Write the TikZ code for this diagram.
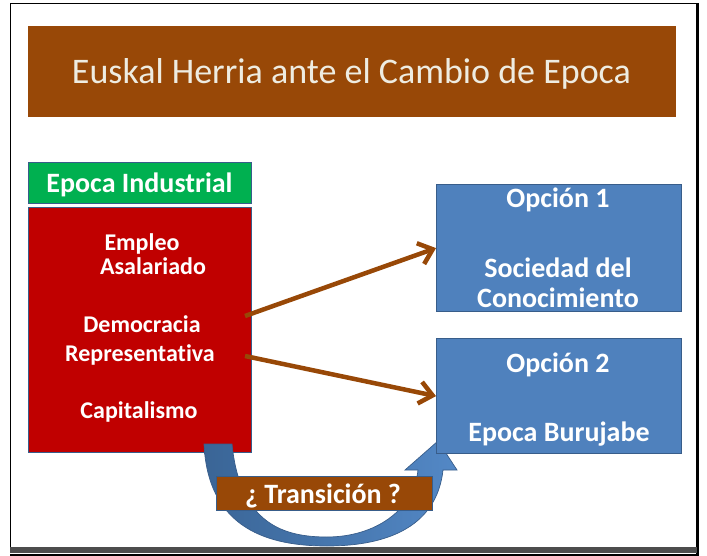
\documentclass[tikz,border=0pt]{standalone}
\usepackage{fontspec}
\setmainfont{Carlito}[Ligatures={NoCommon,NoRare}]
\usetikzlibrary{arrows.meta}
\definecolor{brownbox}{HTML}{984807}
\definecolor{greenbox}{HTML}{00B050}
\definecolor{redbox}{HTML}{C00000}
\definecolor{bluebox}{HTML}{4F81BD}
\definecolor{blueline}{HTML}{385D8A}
\definecolor{cream}{HTML}{EEECE1}
\definecolor{barcol}{HTML}{4D4D4D}
\definecolor{bluedark}{HTML}{3A6596}
\definecolor{bluelight}{HTML}{5388C6}
\tikzset{
  boxbase/.style={draw=blueline, line width=0.8pt, inner sep=0pt, anchor=north west},
  txt/.style={text=white, font=\bfseries\fontsize{24}{28}\selectfont, anchor=base, inner sep=0pt},
  bigtxt/.style={text=white, font=\bfseries\fontsize{28}{32}\selectfont, anchor=base, inner sep=0pt},
  brownarrow/.style={draw=brownbox, line width=4.5pt, -{Straight Barb[length=13pt,width=22pt]}},
}
\begin{document}
\begin{tikzpicture}[x=1pt,y=-1pt]
\useasboundingbox (0,0) rectangle (707,556);
% frame
\fill[white] (0,0) rectangle (707,556);
\draw[line width=1.3pt] (10.7,553) -- (10.7,3.5) -- (697,3.5);
\draw[line width=2.7pt] (697.5,3) -- (697.5,556);
\fill[barcol] (10,547) rectangle (696.5,553);
\draw[line width=1.6pt] (10,555) -- (699,555);
% title
\node[boxbase, fill=brownbox, draw=none, minimum width=648pt, minimum height=91pt] (title) at (28,26) {};
\node[text=cream, font=\fontsize{36}{40}\selectfont, anchor=base, inner sep=0pt] (titletxt) at (351.5,84) {Euskal Herria ante el Cambio de Epoca};
% left boxes
\node[boxbase, fill=greenbox, minimum width=223pt, minimum height=41pt] (green) at (28,162) {};
\node[bigtxt] (greentxt) at (139.5,193) {Epoca Industrial};
\node[boxbase, fill=redbox, minimum width=223pt, minimum height=245pt] (red) at (28,207) {};
\node[txt] (t1) at (142,251) {Empleo};
\node[txt] (t2) at (153,275) {Asalariado};
\node[txt] (t3) at (142,332) {Democracia};
\node[txt] (t4) at (140,361) {Representativa};
\node[txt] (t5) at (139,418) {Capitalismo};
% curved arrow
\path[draw=blueline, line width=0.7pt, left color=bluedark, right color=bluelight]
  (204,444) .. controls (208,530) and (270,546) .. (327,546)
  .. controls (390,546) and (437,525) .. (443,470)
  -- (457,470) -- (438,441) -- (405,470) -- (418,470)
  .. controls (414,510) and (375,537) .. (327,537)
  .. controls (285,537) and (240,525) .. (232,444) -- cycle;
% right boxes
\node[boxbase, fill=bluebox, line width=1.2pt, minimum width=245pt, minimum height=127pt] (op1) at (436,184) {};
\node[bigtxt] (o1a) at (558,208) {Opción 1};
\node[bigtxt] (o1b) at (558,277) {Sociedad del};
\node[bigtxt] (o1c) at (558,307) {Conocimiento};
\node[boxbase, fill=bluebox, line width=1.2pt, minimum width=245pt, minimum height=115pt] (op2) at (436,338) {};
\node[bigtxt] (o2a) at (558,372) {Opción 2};
\node[bigtxt] (o2b) at (559,441) {Epoca Burujabe};
% transition box
\node[boxbase, fill=brownbox, minimum width=216pt, minimum height=34pt] (trans) at (216,476) {};
\node[bigtxt] (transtxt) at (323,503) {¿ Transición ?};
% arrows
\coordinate (s1) at (245,316);
\coordinate (s2) at (245,356);
\draw[brownarrow] (s1) -- (op1.west);
\draw[brownarrow] (s2) -- (op2.west);
\end{tikzpicture}
\end{document}
